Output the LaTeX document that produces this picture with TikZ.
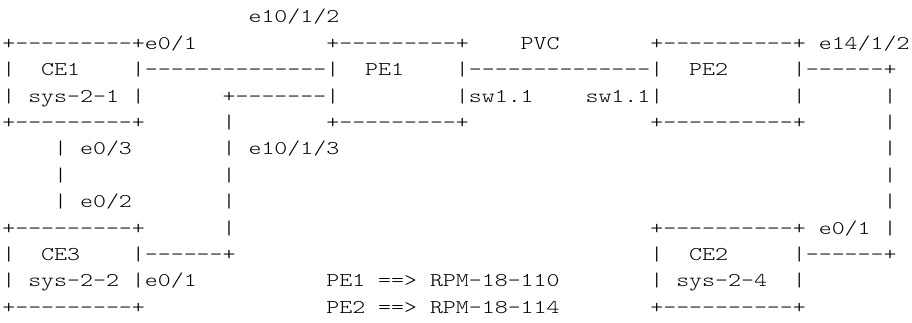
\documentclass[tikz,border=0pt]{standalone}
\usepackage{fontspec}
\newfontfamily\ascfont[FakeStretch=1.266]{Latin Modern Mono Light}
\tikzset{asc/.style={font=\ascfont\fontsize{19.5pt}{26pt}\selectfont,
    anchor=base west, inner sep=0pt, outer sep=0pt}}

\begin{document}
\begin{tikzpicture}[x=12.96pt, y=-26.4pt]
    \useasboundingbox (-0.18,-0.87) rectangle (70.19,11.33);

    % CE1
    \node[asc] (ce1top) at (0,1) {+---------+};
    \node[asc] (ce1l) at (0,2) {|};
    \node[asc] (ce1name) at (3,2) {CE1};
    \node[asc] (ce1ll) at (0,3) {|};
    \node[asc] (ce1sys) at (2,3) {sys-2-1};
    \node[asc] (ce1rr) at (10,3) {|};
    \node[asc] (ce1bot) at (0,4) {+---------+};
    \node[asc] (ce1port) at (11,1) {e0/1};

    % CE1 -- PE1
    \node[asc] (ce1pe1) at (10,2) {|--------------|};
    \node[asc] (pe1porta) at (19,0) {e10/1/2};

    % PE1
    \node[asc] (pe1top) at (25,1) {+---------+};
    \node[asc] (pe1name) at (28,2) {PE1};
    \node[asc] (pe1bot) at (25,4) {+---------+};

    % PE1 -- PE2 (PVC)
    \node[asc] (pvc) at (40,1) {PVC};
    \node[asc] (pe1pe2) at (35,2) {|--------------|};
    \node[asc] (sw1a) at (35,3) {|sw1.1};
    \node[asc] (sw1b) at (45,3) {sw1.1|};

    % PE2
    \node[asc] (pe2top) at (50,1) {+----------+};
    \node[asc] (pe2name) at (53,2) {PE2};
    \node[asc] (pe2r) at (61,3) {|};
    \node[asc] (pe2bot) at (50,4) {+----------+};
    \node[asc] (pe2port) at (63,1) {e14/1/2};

    % PE2 -- CE2
    \node[asc] (pe2ce2) at (61,2) {|------+};
    \foreach \r in {3,...,8}
      \node[asc] (bar68\r) at (68,\r) {|};
    \node[asc] (ce2pe2) at (61,9) {|------+};

    % PE1 -- CE3
    \node[asc] (pe1ce3) at (17,3) {+-------|};
    \foreach \r in {4,...,8}
      \node[asc] (bar17\r) at (17,\r) {|};
    \node[asc] (pe1port3) at (19,5) {e10/1/3};
    \node[asc] (ce3pe1) at (10,9) {|------+};

    % CE1 -- CE3
    \foreach \r in {5,6,7}
      \node[asc] (bar4\r) at (4,\r) {|};
    \node[asc] (ce1port3) at (6,5) {e0/3};
    \node[asc] (ce3port2) at (6,7) {e0/2};

    % CE3
    \node[asc] (ce3top) at (0,8) {+---------+};
    \node[asc] (ce3l) at (0,9) {|};
    \node[asc] (ce3name) at (3,9) {CE3};
    \node[asc] (ce3ll) at (0,10) {|};
    \node[asc] (ce3sys) at (2,10) {sys-2-2};
    \node[asc] (ce3port) at (10,10) {|e0/1};
    \node[asc] (ce3bot) at (0,11) {+---------+};

    % CE2
    \node[asc] (ce2top) at (50,8) {+----------+};
    \node[asc] (ce2port) at (63,8) {e0/1};
    \node[asc] (ce2l) at (50,9) {|};
    \node[asc] (ce2name) at (53,9) {CE2};
    \node[asc] (ce2ll) at (50,10) {|};
    \node[asc] (ce2sys) at (52,10) {sys-2-4};
    \node[asc] (ce2rr) at (61,10) {|};
    \node[asc] (ce2bot) at (50,11) {+----------+};

    % routers
    \node[asc] (rpm1a) at (25,10) {PE1};
    \node[asc] (rpm1b) at (29,10) {==>};
    \node[asc] (rpm1c) at (33,10) {RPM-18-110};
    \node[asc] (rpm2a) at (25,11) {PE2};
    \node[asc] (rpm2b) at (29,11) {==>};
    \node[asc] (rpm2c) at (33,11) {RPM-18-114};
\end{tikzpicture}
\end{document}
